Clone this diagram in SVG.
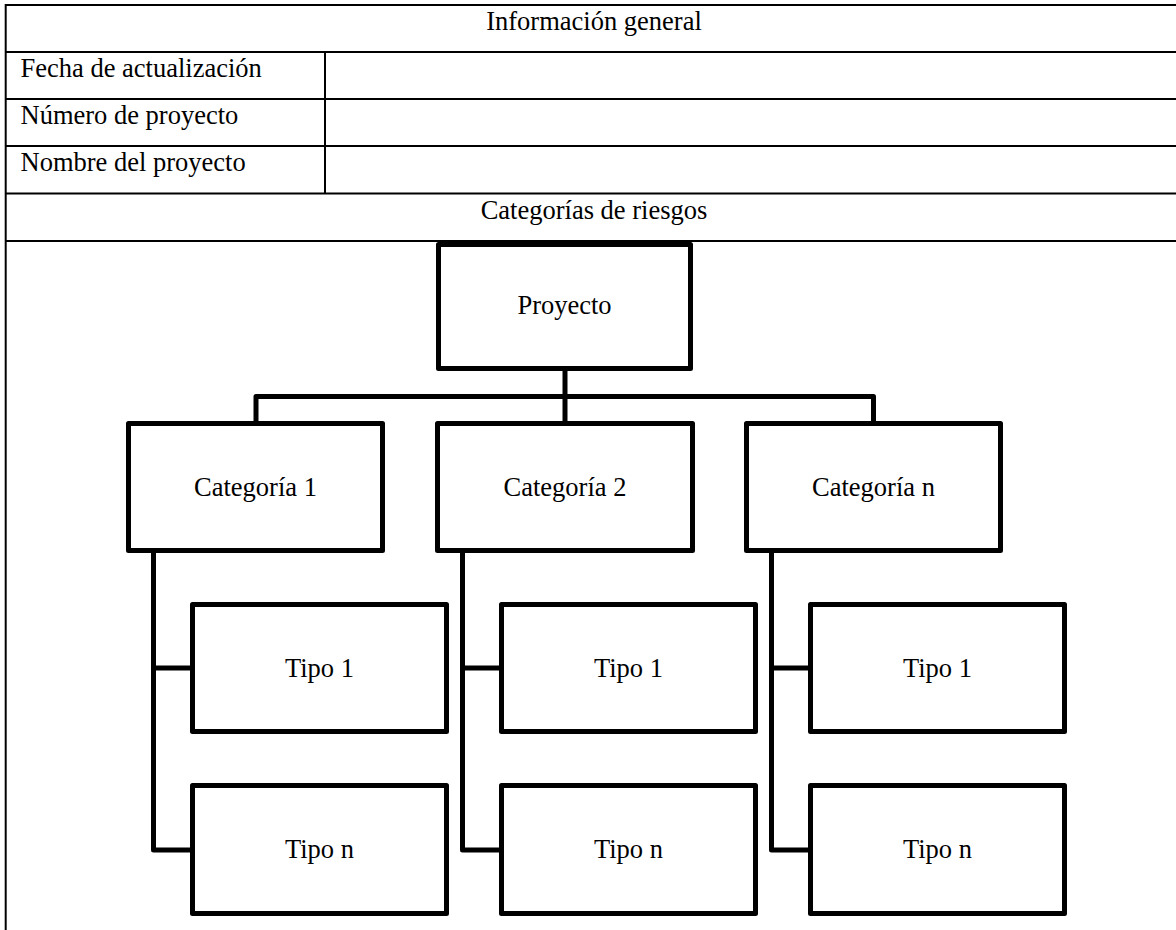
<svg xmlns="http://www.w3.org/2000/svg" width="1176" height="930" viewBox="0 0 1176 930">
  <style>
    .grid { stroke: #000; stroke-width: 2; fill: none; }
    .box { fill: #fff; stroke: #000; stroke-width: 5; stroke-linejoin: round; }
    .link { fill: none; stroke: #000; stroke-width: 5; stroke-linejoin: round; stroke-linecap: butt; }
    text { font-family: "Liberation Serif", "Times New Roman", serif; font-size: 26.5px; fill: #000; }
    .c { text-anchor: middle; }
  </style>
  <rect width="1176" height="930" fill="#fff"/>

  <!-- table frame -->
  <g id="table">
    <line class="grid" x1="5.7" y1="5" x2="1176" y2="5"/>
    <line class="grid" x1="5.7" y1="52" x2="1176" y2="52"/>
    <line class="grid" x1="5.7" y1="99" x2="1176" y2="99"/>
    <line class="grid" x1="5.7" y1="146" x2="1176" y2="146"/>
    <line class="grid" x1="5.7" y1="193.5" x2="1176" y2="193.5"/>
    <line class="grid" x1="5.7" y1="241" x2="1176" y2="241"/>
    <line class="grid" x1="5.7" y1="4" x2="5.7" y2="930"/>
    <line class="grid" x1="325" y1="52" x2="325" y2="193.5"/>
    <text class="c" x="594" y="30">Información general</text>
    <text x="20.5" y="77">Fecha de actualización</text>
    <text x="20.5" y="124">Número de proyecto</text>
    <text x="20.5" y="171">Nombre del proyecto</text>
    <text class="c" x="594" y="218.5">Categorías de riesgos</text>
  </g>

  <!-- connectors -->
  <g id="connectors">
    <path class="link" d="M565,368 V424"/>
    <path class="link" d="M256,424 V396.5 H873.5 V424"/>
    <path class="link" d="M153.5,550 V850 H193"/>
    <path class="link" d="M153.5,668 H193"/>
    <path class="link" d="M462.5,550 V850 H502"/>
    <path class="link" d="M462.5,668 H502"/>
    <path class="link" d="M771.5,550 V850 H811"/>
    <path class="link" d="M771.5,668 H811"/>
  </g>

  <g id="proyecto">
    <rect class="box" x="438.5" y="244.5" width="252" height="124"/>
    <text class="c" x="564.5" y="314">Proyecto</text>
  </g>

  <g id="categoria-1">
    <rect class="box" x="128.5" y="423.5" width="254" height="127"/>
    <text class="c" x="255.5" y="496">Categoría 1</text>
  </g>
  <g id="categoria-2">
    <rect class="box" x="437.5" y="423.5" width="255" height="127"/>
    <text class="c" x="565" y="496">Categoría 2</text>
  </g>
  <g id="categoria-n">
    <rect class="box" x="746.5" y="423.5" width="254" height="127"/>
    <text class="c" x="873.5" y="496">Categoría n</text>
  </g>

  <g id="c1-tipo-1">
    <rect class="box" x="192.5" y="604.5" width="254" height="127"/>
    <text class="c" x="319.5" y="677">Tipo 1</text>
  </g>
  <g id="c1-tipo-n">
    <rect class="box" x="192.5" y="785.5" width="254" height="128"/>
    <text class="c" x="319.5" y="858">Tipo n</text>
  </g>
  <g id="c2-tipo-1">
    <rect class="box" x="501.5" y="604.5" width="254" height="127"/>
    <text class="c" x="628.5" y="677">Tipo 1</text>
  </g>
  <g id="c2-tipo-n">
    <rect class="box" x="501.5" y="785.5" width="254" height="128"/>
    <text class="c" x="628.5" y="858">Tipo n</text>
  </g>
  <g id="cn-tipo-1">
    <rect class="box" x="810.5" y="604.5" width="254" height="127"/>
    <text class="c" x="937.5" y="677">Tipo 1</text>
  </g>
  <g id="cn-tipo-n">
    <rect class="box" x="810.5" y="785.5" width="254" height="128"/>
    <text class="c" x="937.5" y="858">Tipo n</text>
  </g>
</svg>
